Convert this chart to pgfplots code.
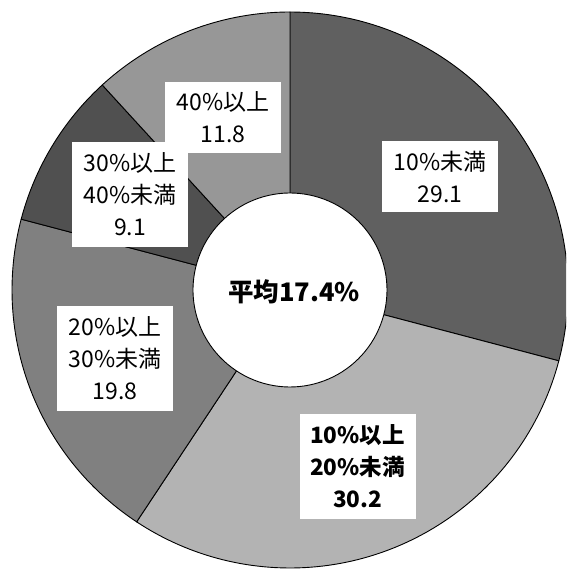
\documentclass[border=0pt]{standalone}
\usepackage{pgfplots}
\pgfplotsset{compat=1.18}
\usepackage{fontspec}
\setmainfont{Noto Sans CJK JP}

\definecolor{sA}{HTML}{606060}
\definecolor{sB}{HTML}{B3B3B3}
\definecolor{sC}{HTML}{808080}
\definecolor{sD}{HTML}{505050}
\definecolor{sE}{HTML}{979797}

\def\Rout{278}
\def\Rin{97}

% one slice of the ring: #1 = share before it, #2 = its share, #3 = fill
\newcommand{\ringslice}[3]{%
  \addplot[draw=black, line width=0.9pt, fill=#3,
    domain={90-3.6*(#1+#2)}:{90-3.6*(#1)}, samples=90, variable=\t]
    ({\Rout*cos(\t)},{\Rout*sin(\t)}) -- (axis cs:0,0) -- cycle;
}

\tikzset{lbl/.style={fill=white, inner sep=0pt, minimum width=116pt,
  align=center, font=\fontsize{23}{32}\selectfont}}

\begin{document}
\begin{tikzpicture}
\begin{axis}[
  x=1pt, y=1pt,
  xmin=-290, xmax=276, ymin=-280, ymax=290,
  hide axis, clip=true,
]
% shares in percent, clockwise from the top
\ringslice{0}{29.1}{sA}
\ringslice{29.1}{30.2}{sB}
\ringslice{59.3}{19.8}{sC}
\ringslice{79.1}{9.1}{sD}
\ringslice{88.2}{11.8}{sE}
\addplot[draw=black, line width=0.9pt, fill=white, domain=0:360, samples=120, variable=\t]
  ({\Rin*cos(\t)},{\Rin*sin(\t)}) -- cycle;

\node[lbl, minimum height=71pt]  at (axis cs:150,113)    {10\%未満\\29.1};
\node[lbl, minimum height=105pt, font=\fontsize{22.5}{32}\selectfont\bfseries] at (axis cs:67.5,-176.5) {10\%以上\\20\%未満\\30.2};
\node[lbl, minimum height=105pt] at (axis cs:-175,-68.5) {20\%以上\\30\%未満\\19.8};
\node[lbl, minimum height=105pt] at (axis cs:-160,95.5)  {30\%以上\\40\%未満\\9.1};
\node[lbl, minimum height=71pt]  at (axis cs:-67,172.5)  {40\%以上\\11.8};
\node[font=\fontsize{25.5}{30}\selectfont\bfseries] at (axis cs:4,-2) {平均17.4\%};
\end{axis}
\pgfresetboundingbox
\useasboundingbox (current axis.south west) rectangle (current axis.north east);
\end{tikzpicture}
\end{document}
